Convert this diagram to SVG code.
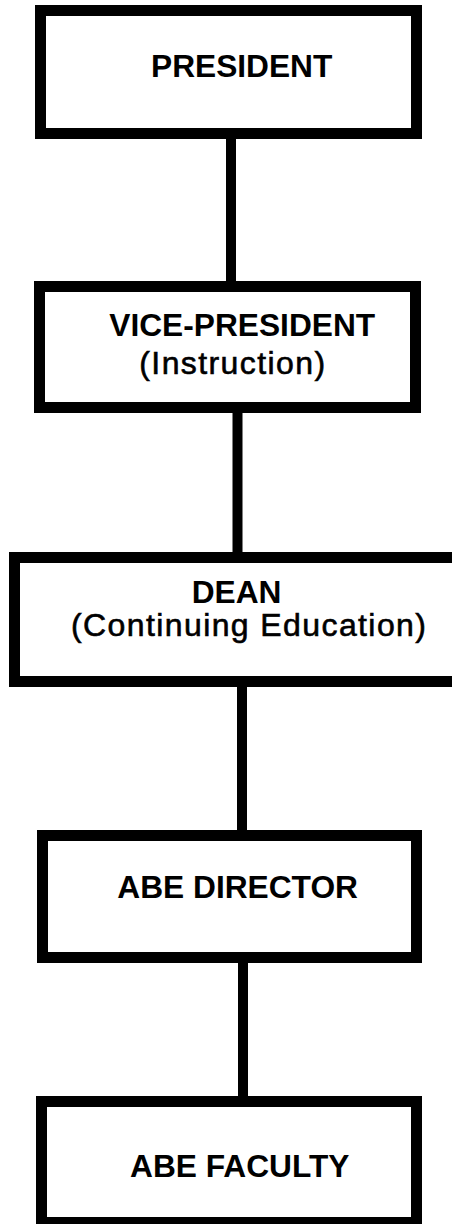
<svg xmlns="http://www.w3.org/2000/svg" width="452" height="1224" viewBox="0 0 452 1224">
<style>
.box{fill:#fff;stroke:#000;stroke-width:11}
.conn{stroke:#000;stroke-width:10;fill:none}
.t{font-family:"Liberation Sans",Arial,Helvetica,sans-serif;font-weight:bold;font-size:31.7px;fill:#000}
.s{font-family:"Liberation Sans",Arial,Helvetica,sans-serif;font-weight:normal;font-size:32px;letter-spacing:1.4px;fill:#000;stroke:#000;stroke-width:0.6}
</style>
<rect width="452" height="1224" fill="#fff"/>
<g id="connectors">
<line class="conn" x1="231" y1="139" x2="231" y2="281"/>
<line class="conn" x1="237.5" y1="413" x2="237.5" y2="552"/>
<line class="conn" x1="242" y1="687" x2="242" y2="830"/>
<line class="conn" x1="243" y1="963" x2="243" y2="1096"/>
</g>
<g id="president">
<rect class="box" x="40.5" y="10.5" width="376" height="123"/>
<text class="t" x="151" y="77">PRESIDENT</text>
</g>
<g id="vice-president">
<rect class="box" x="39.5" y="286.5" width="376" height="121"/>
<text class="t" x="109.3" y="336">VICE-PRESIDENT</text>
<text class="s" x="139.3" y="374">(Instruction)</text>
</g>
<g id="dean">
<rect class="box" x="14.5" y="557.5" width="460" height="124"/>
<text class="t" x="191.7" y="603">DEAN</text>
<text class="s" x="71" y="636">(Continuing Education)</text>
</g>
<g id="abe-director">
<rect class="box" x="42.5" y="835.5" width="374" height="122"/>
<text class="t" x="117.3" y="898.3">ABE DIRECTOR</text>
</g>
<g id="abe-faculty">
<rect class="box" x="41.5" y="1101.5" width="375" height="121"/>
<text class="t" x="130" y="1176.7">ABE FACULTY</text>
</g>
</svg>
